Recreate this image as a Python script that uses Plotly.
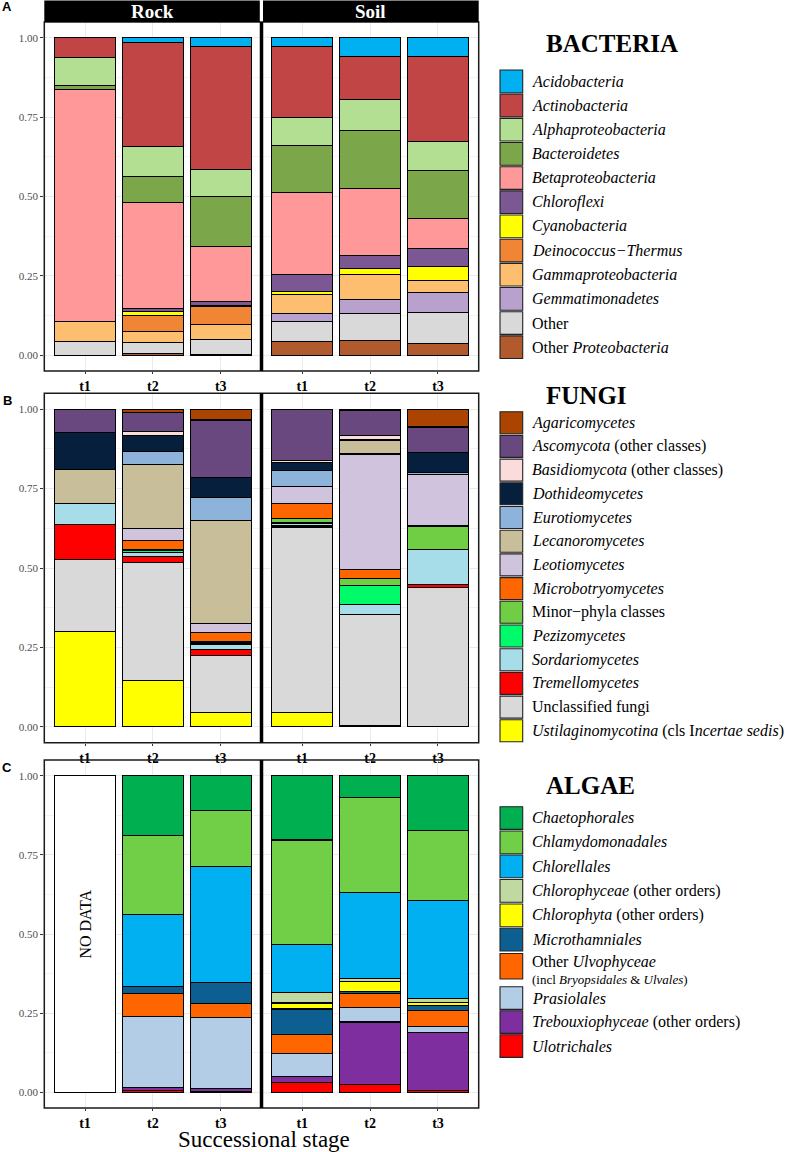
import plotly.graph_objects as go

W, H = 800, 1152
stages = ["t1", "t2", "t3"]
facets = ["Rock", "Soil"]
y_tick_vals = [0, 0.25, 0.5, 0.75, 1.0]
y_tick_text = ["0.00", "0.25", "0.50", "0.75", "1.00"]

# ---------------- BACTERIA (legend order, top of stack first) ----------------
bac_labels = ["<i>Acidobacteria</i>", "<i>Actinobacteria</i>", "<i>Alphaproteobacteria</i>",
              "<i>Bacteroidetes</i>", "<i>Betaproteobacteria</i>", "<i>Chloroflexi</i>",
              "<i>Cyanobacteria</i>", "<i>Deinococcus\u2212Thermus</i>", "<i>Gammaproteobacteria</i>",
              "<i>Gemmatimonadetes</i>", "Other", "Other <i>Proteobacteria</i>"]
bac_colors = ["#00B0F0", "#C24545", "#B3DF93", "#7BA64A", "#FF9999", "#7B5893",
              "#FFFF00", "#EF8535", "#FDBE70", "#B8A1CC", "#D9D9D9", "#B05A2E"]
bac_rock_t1 = [0, 0.061, 0.089, 0.013, 0.732, 0, 0, 0, 0.063, 0, 0.042, 0]
bac_rock_t2 = [0.014, 0.329, 0.095, 0.081, 0.334, 0.010, 0.012, 0.050, 0.035, 0, 0.036, 0.004]
bac_rock_t3 = [0.026, 0.389, 0.084, 0.158, 0.173, 0.013, 0.003, 0.057, 0.048, 0, 0.046, 0.003]
bac_soil_t1 = [0.027, 0.224, 0.088, 0.149, 0.257, 0.054, 0.009, 0, 0.062, 0.023, 0.064, 0.043]
bac_soil_t2 = [0.058, 0.136, 0.098, 0.183, 0.210, 0.043, 0.019, 0, 0.078, 0.045, 0.084, 0.046]
bac_soil_t3 = [0.060, 0.268, 0.090, 0.150, 0.097, 0.056, 0.044, 0, 0.038, 0.062, 0.098, 0.037]

# ---------------- FUNGI ----------------
fun_labels = ["<i>Agaricomycetes</i>", "<i>Ascomycota</i> (other classes)",
              "<i>Basidiomycota</i> (other classes)", "<i>Dothideomycetes</i>",
              "<i>Eurotiomycetes</i>", "<i>Lecanoromycetes</i>", "<i>Leotiomycetes</i>",
              "<i>Microbotryomycetes</i>", "Minor\u2212phyla classes", "<i>Pezizomycetes</i>",
              "<i>Sordariomycetes</i>", "<i>Tremellomycetes</i>", "Unclassified fungi",
              "<i>Ustilaginomycotina</i> (cls I<i>ncertae sedis</i>)"]
fun_colors = ["#AA4400", "#69487F", "#FADCDC", "#061F3D", "#8DB3DA", "#C8BF9A", "#CFC3DD",
              "#FF6600", "#70CE44", "#00FA6A", "#A6DDE8", "#FF0000", "#D9D9D9", "#FFFF00"]
fun_rock_t1 = [0, 0.074, 0, 0.115, 0, 0.109, 0, 0, 0, 0, 0.065, 0.111, 0.226, 0.300]
fun_rock_t2 = [0.010, 0.059, 0.015, 0.048, 0.042, 0.203, 0.037, 0.028, 0.003, 0.007, 0.011, 0.021, 0.369, 0.147]
fun_rock_t3 = [0.034, 0.182, 0, 0.063, 0.071, 0.324, 0.029, 0.029, 0.004, 0.004, 0.016, 0.019, 0.181, 0.044]
fun_soil_t1 = [0, 0.161, 0.007, 0.024, 0.052, 0, 0.054, 0.046, 0.012, 0.003, 0.006, 0.006, 0.585, 0.044]
fun_soil_t2 = [0.005, 0.077, 0.015, 0, 0, 0.044, 0.364, 0.029, 0.021, 0.059, 0.031, 0, 0.352, 0.003]
fun_soil_t3 = [0.056, 0.081, 0, 0.061, 0.009, 0, 0.158, 0.005, 0.072, 0, 0.111, 0.007, 0.440, 0]

# ---------------- ALGAE ----------------
alg_labels = ["<i>Chaetophorales</i>", "<i>Chlamydomonadales</i>", "<i>Chlorellales</i>",
              "<i>Chlorophyceae</i> (other orders)", "<i>Chlorophyta</i> (other orders)",
              "<i>Microthamniales</i>", "Other <i>Ulvophyceae</i>", "<i>Prasiolales</i>",
              "<i>Trebouxiophyceae</i> (other orders)", "<i>Ulotrichales</i>"]
alg_label_sub = "(incl <i>Bryopsidales</i> & <i>Ulvales</i>)"
alg_colors = ["#00B050", "#70CF46", "#00B0F0", "#C0D9A1", "#FFFF00", "#0D5E91",
              "#FF6600", "#B4CDE6", "#7E2E9E", "#FF0000"]
alg_rock_t1 = [0, 0, 0, 0, 0, 0, 0, 0, 0, 0]
alg_rock_t2 = [0.189, 0.250, 0.228, 0, 0, 0.022, 0.071, 0.226, 0.010, 0.004]
alg_rock_t3 = [0.110, 0.178, 0.365, 0, 0, 0.068, 0.042, 0.226, 0.008, 0.003]
alg_soil_t1 = [0.203, 0.331, 0.152, 0.032, 0.019, 0.080, 0.061, 0.071, 0.021, 0.030]
alg_soil_t2 = [0.069, 0.299, 0.273, 0.010, 0.030, 0.006, 0.046, 0.045, 0.198, 0.024]
alg_soil_t3 = [0.172, 0.222, 0.311, 0.011, 0.010, 0.015, 0.051, 0.020, 0.184, 0.004]
alg_rock_nodata = [1.0, 0, 0]

SERIF = "Liberation Serif, Times New Roman, serif"
SANS = "Liberation Sans, Arial, sans-serif"


def px(x):
    return x / W


def py(y):
    return 1 - y / H


panels = [
    ("bac", bac_labels, bac_colors,
     [[bac_rock_t1, bac_rock_t2, bac_rock_t3], [bac_soil_t1, bac_soil_t2, bac_soil_t3]]),
    ("fun", fun_labels, fun_colors,
     [[fun_rock_t1, fun_rock_t2, fun_rock_t3], [fun_soil_t1, fun_soil_t2, fun_soil_t3]]),
    ("alg", alg_labels, alg_colors,
     [[alg_rock_t1, alg_rock_t2, alg_rock_t3], [alg_soil_t1, alg_soil_t2, alg_soil_t3]]),
]

# geometry (pixels)
X_LEFT, X_MID, X_RIGHT = 44.3, 261.5, 478.7
panel_rows = [(22, 371), (393.3, 742.7), (760, 1108)]

fig = go.Figure()
layout = dict(width=W, height=H, margin=dict(l=0, r=0, t=0, b=0),
              paper_bgcolor="white", plot_bgcolor="white", barmode="stack",
              bargap=0.1, showlegend=False, shapes=[], annotations=[])


def ann(**kw):
    base = dict(xref="paper", yref="paper", showarrow=False, xanchor="center",
                yanchor="middle", borderpad=0)
    base.update(kw)
    layout["annotations"].append(base)


ax_i = 0
for r, (key, labels, colors, facet_data) in enumerate(panels):
    top, bot = panel_rows[r]
    for f in range(2):
        ax_i += 1
        xa = "x" if ax_i == 1 else f"x{ax_i}"
        ya = "y" if ax_i == 1 else f"y{ax_i}"
        stage_lists = facet_data[f]
        if key == "alg" and f == 0:
            fig.add_trace(go.Bar(x=stages, y=[v if v else None for v in alg_rock_nodata],
                                 xaxis=xa, yaxis=ya, width=0.9,
                                 marker=dict(color="white", line=dict(color="black", width=1.3)),
                                 hoverinfo="skip"))
        for k in reversed(range(len(labels))):
            vals = [stage_lists[s][k] for s in range(3)]
            fig.add_trace(go.Bar(
                x=stages, y=[v if v else None for v in vals], xaxis=xa, yaxis=ya,
                width=0.9, name=labels[k],
                marker=dict(color=colors[k], line=dict(color="black", width=1.1))))
        xdom = [px(X_LEFT), px(X_MID)] if f == 0 else [px(X_MID), px(X_RIGHT)]
        ydom = [py(bot), py(top)]
        layout["xaxis" if ax_i == 1 else f"xaxis{ax_i}"] = dict(
            domain=xdom, anchor=ya, type="category", categoryorder="array",
            categoryarray=stages, range=[-0.6, 2.6], showgrid=True, gridcolor="#EBEBEB",
            gridwidth=1, ticks="outside", ticklen=2, tickcolor="#333333",
            tickfont=dict(family=SERIF, size=14, color="black", weight="bold"),
            showline=False, zeroline=False, fixedrange=True)
        layout["yaxis" if ax_i == 1 else f"yaxis{ax_i}"] = dict(
            domain=ydom, anchor=xa, range=[-0.05, 1.05], tickvals=y_tick_vals,
            ticktext=y_tick_text, showticklabels=(f == 0), ticks="outside" if f == 0 else "",
            ticklen=3, tickcolor="#333333", showgrid=True, gridcolor="#EBEBEB", gridwidth=1,
            minor=dict(tickvals=[0.125, 0.375, 0.625, 0.875], showgrid=True,
                       gridcolor="#F3F3F3", gridwidth=0.6),
            tickfont=dict(family=SERIF, size=11, color="#4D4D4D"),
            zeroline=False, showline=False, fixedrange=True)
    layout["shapes"].append(dict(type="rect", xref="paper", yref="paper",
                                 x0=px(X_LEFT), x1=px(X_RIGHT), y0=py(bot), y1=py(top),
                                 line=dict(color="#1A1A1A", width=1.5), fillcolor="rgba(0,0,0,0)"))
    layout["shapes"].append(dict(type="line", xref="paper", yref="paper",
                                 x0=px(X_MID), x1=px(X_MID), y0=py(bot), y1=py(top),
                                 line=dict(color="black", width=3.5)))

# facet strips
strip_spans = [(X_LEFT, 259.8), (263.0, X_RIGHT)]
for (a, b), name in zip(strip_spans, facets):
    layout["shapes"].append(dict(type="rect", xref="paper", yref="paper",
                                 x0=px(a), x1=px(b), y0=py(22), y1=py(0.5),
                                 fillcolor="black", line=dict(width=0)))
    ann(x=px((a + b) / 2), y=py(12), text=f"<b>{name}</b>",
        font=dict(family=SERIF, size=19, color="white"))

# panel letters
for letter, yy in zip(["A", "B", "C"], [7, 400, 767]):
    ann(x=px(7), y=py(yy), text=f"<b>{letter}</b>",
        font=dict(family=SANS, size=13, color="black"))

# NO DATA label
ann(xref="x5", yref="y5", x="t1", y=0.53, text="NO DATA", textangle=-90,
    font=dict(family=SERIF, size=16, color="black"))

# x axis title
ann(x=px(263.5), y=py(1139), text="Successional stage",
    font=dict(family=SERIF, size=23, color="black"))

# manual legends
KEY_X0, KEY_X1, TXT_X, TITLE_X = 500, 522.7, 530.5, 545


def add_title(text, yc):
    ann(x=px(TITLE_X), y=py(yc), xanchor="left", text=f"<b>{text}</b>",
        font=dict(family=SERIF, size=25, color="black"))


def add_key(color, y0, y1, label, yc=None, size=16):
    layout["shapes"].append(dict(type="rect", xref="paper", yref="paper",
                                 x0=px(KEY_X0), x1=px(KEY_X1), y0=py(y1), y1=py(y0),
                                 fillcolor=color, line=dict(color="#222222", width=1.1)))
    yc = (y0 + y1) / 2 if yc is None else yc
    ann(x=px(TXT_X), y=py(yc), xanchor="left", text=label,
        font=dict(family=SERIF, size=size, color="black"))


add_title("BACTERIA", 43.5)
for i, (lab, col) in enumerate(zip(bac_labels, bac_colors)):
    t = 70 + 24.17 * i
    add_key(col, t, t + 22.7, lab)

add_title("FUNGI", 395)
for i, (lab, col) in enumerate(zip(fun_labels, fun_colors)):
    t = 411.7 + 23.7 * i
    add_key(col, t, t + 22, lab)

add_title("ALGAE", 785)
alg_tops = [806.7, 831, 855, 879.5, 904, 928.3, 953.5, 986.7, 1010.7, 1034.7]
for i, (lab, col) in enumerate(zip(alg_labels, alg_colors)):
    t = alg_tops[i]
    if i == 6:
        add_key(col, t, t + 25.5, lab, yc=t + 8)
        ann(x=px(TXT_X), y=py(t + 25.5), xanchor="left", text=alg_label_sub,
            font=dict(family=SERIF, size=13, color="black"))
    else:
        add_key(col, t, t + 22.7, lab)

fig.update_layout(**layout)
fig.write_html("out.html", config={"displayModeBar": False},
               post_script="document.body.style.margin='0';document.body.style.overflow='hidden';")
